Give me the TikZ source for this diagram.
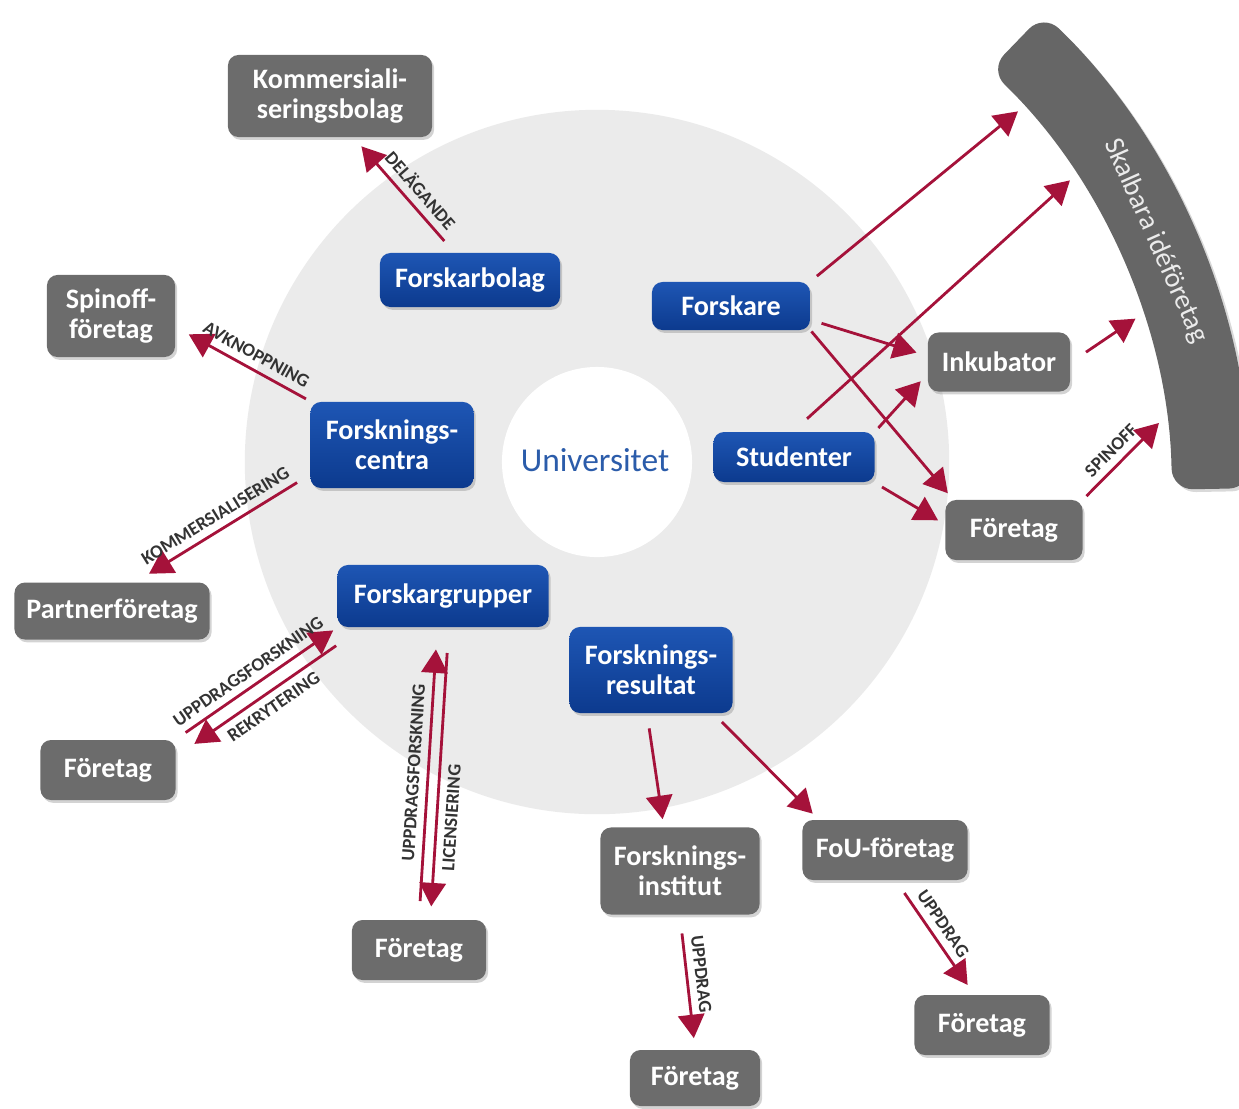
\documentclass[tikz,border=0pt]{standalone}
\usepackage{fontspec}
\setmainfont{Carlito}
\usepackage{tikz}
\usetikzlibrary{arrows}
\usetikzlibrary{shadows}
\definecolor{boxgray}{RGB}{108,108,108}
\definecolor{bandgray}{RGB}{102,102,102}
\definecolor{uniblue}{RGB}{30,86,180}
\definecolor{uniblueD}{RGB}{12,58,142}
\definecolor{flowred}{RGB}{165,18,58}
\definecolor{discgray}{RGB}{235,235,235}
\definecolor{unitext}{RGB}{43,92,170}
\tikzstyle{firm}=[rectangle,rounded corners=3pt,fill=boxgray,text=white,font=\fontsize{8}{8.6}\selectfont\bfseries,align=center,inner sep=0mm,minimum height=6mm,drop shadow={opacity=0.35,shadow xshift=0.6pt,shadow yshift=-0.8pt}]
\tikzstyle{unit}=[rectangle,rounded corners=3pt,top color=uniblue,bottom color=uniblueD,text=white,font=\fontsize{8}{8.6}\selectfont\bfseries,align=center,inner sep=0mm,minimum height=5mm,drop shadow={opacity=0.35,shadow xshift=0.6pt,shadow yshift=-0.8pt}]
\tikzstyle{flow}=[->,>=triangle 60,draw=flowred]
\tikzstyle{tag}=[font=\fontsize{5.3}{6}\selectfont\bfseries,text=black!80,inner sep=2pt,sloped,midway]
\tikzset{every picture/.style={
    line width=0.8pt
  }
}
\begin{document}
\begin{tikzpicture}[x=0.01cm,y=-0.01cm]
      \clip (0,0) rectangle (1239,1108);
      % university disc
      \fill[discgray] (597,462) circle (3.52cm);
      \fill[white] (597,462) circle (0.95cm);
      \node[font=\fontsize{9.5}{10}\selectfont,text=unitext] at (595,460) (uni) {Universitet};
      % band on the right
      \coordinate (hub) at (574,500);
      \fill[bandgray,rounded corners=6pt,shift={(574,500)},drop shadow={opacity=0.3,shadow xshift=0.8pt,shadow yshift=-0.8pt}]
        (-46:598) arc[start angle=-46,end angle=-1,radius=598] -- (-1:676) arc[start angle=-1,end angle=-46,radius=676] -- cycle;
      \path (hub) ++(-24:637) node[rotate=-66,font=\fontsize{8}{9}\selectfont,text=white!92!black] (skalbara) {Skalbara idéföretag};
      \path (hub) ++(-41.2:590) coordinate (s1);
      \path (hub) ++(-32.8:590) coordinate (s2);
      \path (hub) ++(-17.9:590) coordinate (s3);
      \path (hub) ++(-7.5:590) coordinate (s4);
      \node[unit,minimum width=1.8cm,minimum height=5.4mm] at (470,280) (bolag) {Forskarbolag};
      \node[unit,minimum width=1.58cm,minimum height=4.8mm] at (731,306) (forskare) {Forskare};
      \node[unit,minimum width=1.63cm,minimum height=8.6mm] at (392,445) (centra) {Forsknings-\\centra};
      \node[unit,minimum width=1.61cm] at (794,457) (studenter) {Studenter};
      \node[unit,minimum width=2.11cm,minimum height=6.2mm] at (443,596) (grupper) {Forskargrupper};
      \node[unit,minimum width=1.63cm,minimum height=8.6mm] at (651,670) (resultat) {Forsknings-\\resultat};
      \node[firm,minimum width=2.04cm,minimum height=8.2mm] at (330,96) (kombolag) {Kommersiali-\\seringsbolag};
      \node[firm,minimum width=1.28cm,minimum height=8.2mm] at (111,316) (spinoff) {Spinoff-\\företag};
      \node[firm,minimum width=1.95cm,minimum height=5.7mm] at (112,611) (partner) {Partnerföretag};
      \node[firm,minimum width=1.35cm] at (108,770) (foretagL) {Företag};
      \node[firm,minimum width=1.34cm] at (419,950) (foretagB) {Företag};
      \node[firm,minimum width=1.59cm,minimum height=8.7mm] at (680,871) (institut) {Forsknings-\\institut};
      \node[firm,minimum width=1.30cm,minimum height=5.6mm] at (695,1078) (foretagI) {Företag};
      \node[firm,minimum width=1.65cm] at (885,850) (fou) {FoU-företag};
      \node[firm,minimum width=1.35cm] at (982,1025) (foretagF) {Företag};
      \node[firm,minimum width=1.42cm,minimum height=5.9mm] at (999,362) (inkubator) {Inkubator};
      \node[firm,minimum width=1.37cm] at (1014,530) (foretagR) {Företag};
      % left side
      \draw[flow,shorten <=4pt,shorten >=3pt] (bolag.120) -- (kombolag.-60) node[tag,above,pos=0.45] {DELÄGANDE};
      \draw[flow,shorten <=1pt,shorten >=4pt] (centra.north west) -- (spinoff.-10) node[tag,above,pos=0.45] {AVKNOPPNING};
      \draw[flow,shorten <=4pt,shorten >=4pt] (centra.200) -- (partner.50) node[tag,above] {KOMMERSIALISERING};
      \draw[flow,shorten <=3pt,shorten >=1pt] (foretagL.north east) -- (grupper.south west) node[tag,above] {UPPDRAGSFORSKNING};
      \draw[flow,transform canvas={shift={(2.5pt,-3.2pt)}},shorten <=3pt,shorten >=3pt] (grupper.south west) -- (foretagL.north east) node[tag,below] {REKRYTERING};
      \draw[flow,shorten <=5pt,shorten >=6pt] (foretagB.north) -- (grupper.260) node[tag,above] {UPPDRAGSFORSKNING};
      \draw[flow,shorten <=7pt,shorten >=3.5pt] (grupper.-80) -- (foretagB.70) node[tag,below,pos=0.65] {LICENSIERING};
      % bottom
      \draw[flow,shorten <=4pt,shorten >=2pt] (resultat.265) -- (institut.110);
      \draw[flow,shorten <=3pt,shorten >=2pt] (resultat.-35) -- (fou.155);
      \draw[flow,shorten <=5pt,shorten >=3pt] (institut.south) -- (foretagI.north) node[tag,above,pos=0.45] {UPPDRAG};
      \draw[flow,shorten <=4pt,shorten >=3pt] (fou.-70) -- (foretagF.105) node[tag,above,pos=0.45] {UPPDRAG};
      % right side
      \draw[flow,shorten <=2pt] (forskare.north east) -- (s1);
      \draw[flow,shorten <=5pt] (studenter.north) -- (s2);
      \draw[flow,shorten <=3pt,shorten >=3pt] (forskare.-10) -- (inkubator.175);
      \draw[flow,shorten >=2pt] (forskare.south east) -- (foretagR.153);
      \draw[flow,shorten <=1pt,shorten >=2.5pt] (studenter.north east) -- (inkubator.190);
      \draw[flow,shorten <=2pt,shorten >=2pt] (studenter.south east) -- (foretagR.175);
      \draw[flow,shorten <=5pt] (inkubator.east) -- (s3);
      \draw[flow,shorten <=1pt] (foretagR.north east) -- (s4) node[tag,above] {SPINOFF};
    \end{tikzpicture}
\end{document}
